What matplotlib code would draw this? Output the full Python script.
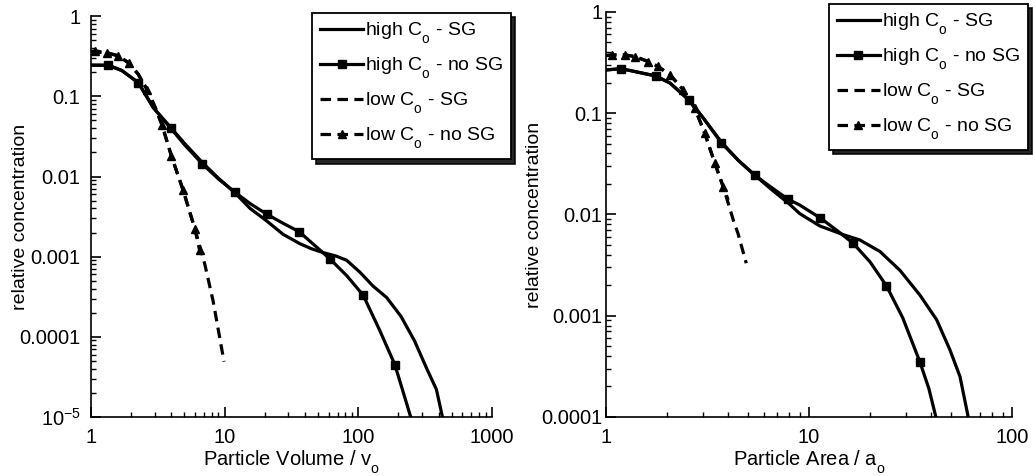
#!/usr/bin/env python3

import matplotlib
matplotlib.use('Agg')
import matplotlib.pyplot as plt
import matplotlib._mathtext as mt
from matplotlib.ticker import LogLocator, FixedLocator, FixedFormatter, NullFormatter

plt.rcParams['font.family'] = ['Liberation Sans', 'DejaVu Sans']
plt.rcParams['mathtext.fontset'] = 'custom'
plt.rcParams['mathtext.rm'] = 'Liberation Sans'
mt.FontConstantsBase.sub1 = 0.75  # subscripts sit low in the original

### left panel: particle volume
vol_hi_sg_x = [1, 1.35, 1.7, 2.26, 2.93, 3.95, 5.0, 6.8, 9.0, 11.9, 15.5, 20.6, 27.4, 36.6,
               45, 55, 68, 82, 103, 129, 163, 209, 264, 324, 385, 427]
vol_hi_sg_y = [0.245, 0.243, 0.21, 0.148, 0.072, 0.041, 0.026, 0.0150, 0.0095, 0.0063, 0.0040,
               0.0028, 0.0019, 0.00145, 0.00125, 0.00112, 0.00102, 0.00090, 0.00064, 0.00043,
               0.00031, 0.00018, 8.9e-5, 4.1e-5, 2.2e-5, 1e-5]

vol_hi_nosg_x = [1, 1.35, 1.7, 2.26, 2.93, 3.95, 5.0, 6.8, 9.0, 11.9, 15.5, 20.6, 27.5, 36.1,
                 48, 61.3, 82, 109, 145, 188, 220, 247]
vol_hi_nosg_y = [0.245, 0.245, 0.21, 0.148, 0.072, 0.040, 0.025, 0.0144, 0.0093, 0.0064, 0.0046,
                 0.0034, 0.0026, 0.00205, 0.00135, 0.00094, 0.00058, 0.00033, 0.00012, 4.5e-5,
                 1.9e-5, 1e-5]
vol_hi_nosg_marks = [1, 3, 5, 7, 9, 11, 13, 15, 17, 19]

vol_lo_sg_x = [1, 1.31, 1.6, 1.92, 2.25, 2.64, 3.0, 3.4, 4.0, 4.9, 6.0, 7.1, 8.2, 9.9]
vol_lo_sg_y = [0.36, 0.35, 0.32, 0.26, 0.19, 0.12, 0.075, 0.044, 0.018, 0.0067, 0.0022,
               0.00081, 0.00028, 4.9e-5]

vol_lo_nosg_x = [1, 1.07, 1.31, 1.6, 1.92, 2.25, 2.64, 3.0, 3.4, 4.0, 4.9, 6.0, 6.5]
vol_lo_nosg_y = [0.36, 0.37, 0.35, 0.32, 0.26, 0.19, 0.12, 0.075, 0.044, 0.018, 0.0067,
                 0.0022, 0.0012]
vol_lo_nosg_marks = [1, 2, 3, 4, 6, 8, 9, 10, 11, 12]

### right panel: particle area
area_hi_sg_x = [1, 1.19, 1.76, 2.07, 2.56, 3.01, 3.7, 4.5, 5.4, 6.5, 8.0, 9.0, 11.3, 14.8,
                17.8, 22.4, 28.1, 35.2, 42.6, 49.5, 55.5, 60.9]
area_hi_sg_y = [0.267, 0.275, 0.233, 0.198, 0.135, 0.090, 0.052, 0.034, 0.0245, 0.0178, 0.0127,
                0.0102, 0.0077, 0.0063, 0.0056, 0.0043, 0.0028, 0.0016, 0.00091, 0.00046,
                0.00025, 1e-4]

area_hi_nosg_x = [1, 1.19, 1.76, 2.07, 2.56, 3.01, 3.7, 4.5, 5.4, 6.5, 7.9, 9.0, 11.4, 13.8,
                  16.5, 20, 24.1, 29, 35.2, 39, 42.2]
area_hi_nosg_y = [0.267, 0.275, 0.233, 0.198, 0.135, 0.090, 0.051, 0.034, 0.0245, 0.0186,
                  0.0141, 0.0124, 0.0092, 0.0069, 0.0052, 0.0034, 0.00197, 0.00095, 0.00035,
                  0.00019, 1e-4]
area_hi_nosg_marks = [1, 2, 4, 6, 8, 10, 12, 14, 16, 18]

area_lo_sg_x = [1, 1.07, 1.24, 1.39, 1.62, 1.8, 2.07, 2.40, 2.74, 3.07, 3.44, 3.78, 4.24,
                4.47, 4.91]
area_lo_sg_y = [0.37, 0.376, 0.376, 0.362, 0.323, 0.29, 0.239, 0.17, 0.112, 0.063, 0.032,
                0.0188, 0.0088, 0.0065, 0.0033]

area_lo_nosg_x = [1, 1.07, 1.24, 1.39, 1.62, 1.8, 2.07, 2.40, 2.74, 3.07, 3.44, 3.78, 4.0]
area_lo_nosg_y = [0.37, 0.376, 0.376, 0.362, 0.323, 0.29, 0.239, 0.17, 0.112, 0.063, 0.032,
                  0.0188, 0.0139]
area_lo_nosg_marks = [1, 2, 3, 4, 5, 6, 7, 8, 9, 10, 11]

labels = ['high C$_\\mathregular{o}$ - SG', 'high C$_\\mathregular{o}$ - no SG',
          'low C$_\\mathregular{o}$ - SG', 'low C$_\\mathregular{o}$ - no SG']

vol_yticks = [1, 0.1, 0.01, 0.001, 0.0001, 1e-5]
vol_ylabels = ['1', '0.1', '0.01', '0.001', '0.0001', '10$^{\\mathregular{-5}}$']
area_yticks = [1, 0.1, 0.01, 0.001, 0.0001]
area_ylabels = ['1', '0.1', '0.01', '0.001', '0.0001']

LW = 2.3
DASH = (0, (3.3, 2.0))


def draw(ax, hs, hn, ls_, ln, xlabel, xlim, ylim, yticks, ylabels, xticks, xticklabels,
         legpos, ypad, ylabx):
    ax.plot(hs[0], hs[1], color='k', lw=LW, label=labels[0])
    ax.plot(hn[0], hn[1], color='k', lw=LW, marker='s', ms=6, markevery=hn[2], label=labels[1])
    ax.plot(ls_[0], ls_[1], color='k', lw=LW, linestyle=DASH, label=labels[2])
    ax.plot(ln[0], ln[1], color='k', lw=LW, linestyle=DASH, marker='^', ms=5.5,
            markevery=ln[2], label=labels[3])
    ax.set_xscale('log')
    ax.set_yscale('log')
    ax.set_xlim(*xlim)
    ax.set_ylim(*ylim)
    ax.spines['top'].set_visible(False)
    ax.spines['right'].set_visible(False)
    for s in ['left', 'bottom']:
        ax.spines[s].set_linewidth(1.2)
    ax.yaxis.set_major_locator(FixedLocator(yticks))
    ax.yaxis.set_major_formatter(FixedFormatter(ylabels))
    ax.yaxis.set_minor_locator(LogLocator(base=10, subs=range(2, 10)))
    ax.yaxis.set_minor_formatter(NullFormatter())
    ax.xaxis.set_major_locator(FixedLocator(xticks))
    ax.xaxis.set_major_formatter(FixedFormatter(xticklabels))
    ax.xaxis.set_minor_locator(LogLocator(base=10, subs=range(2, 10)))
    ax.xaxis.set_minor_formatter(NullFormatter())
    ax.tick_params(which='major', direction='in', length=7, width=1.2, labelsize=14.5)
    ax.tick_params(axis='x', which='major', pad=8)
    ax.tick_params(axis='y', which='major', pad=ypad)
    ax.tick_params(which='minor', direction='in', length=3.5, width=1.0)
    ax.set_xlabel(xlabel, fontsize=14.5, labelpad=1)
    ax.set_ylabel('relative concentration', fontsize=14)
    ax.yaxis.set_label_coords(ylabx, 0.5)
    leg = ax.legend(loc='upper right', bbox_to_anchor=legpos, bbox_transform=fig.transFigure,
                    fontsize=14, frameon=True, fancybox=False, numpoints=1,
                    handlelength=2.2, handletextpad=0.1, labelspacing=0.5, borderpad=0.42,
                    borderaxespad=0, shadow={'color': 'black', 'alpha': 0.85, 'ox': 3, 'oy': -3})
    leg.get_frame().set_edgecolor('black')
    leg.get_frame().set_linewidth(1.3)


fig = plt.figure(figsize=(10.33, 4.76), dpi=100)
ax1 = fig.add_axes([0.0881, 0.124, 0.388, 0.842])
ax2 = fig.add_axes([0.5866, 0.124, 0.393, 0.851])

draw(ax1, (vol_hi_sg_x, vol_hi_sg_y), (vol_hi_nosg_x, vol_hi_nosg_y, vol_hi_nosg_marks),
     (vol_lo_sg_x, vol_lo_sg_y), (vol_lo_nosg_x, vol_lo_nosg_y, vol_lo_nosg_marks),
     'Particle Volume / v$_\\mathregular{o}$', (1, 1000), (1e-5, 1), vol_yticks, vol_ylabels,
     [1, 10, 100, 1000], ['1', '10', '100', '1000'], (0.4947, 0.973), 7.5, -0.155)

draw(ax2, (area_hi_sg_x, area_hi_sg_y), (area_hi_nosg_x, area_hi_nosg_y, area_hi_nosg_marks),
     (area_lo_sg_x, area_lo_sg_y), (area_lo_nosg_x, area_lo_nosg_y, area_lo_nosg_marks),
     'Particle Area / a$_\\mathregular{o}$', (1, 100), (1e-4, 1), area_yticks, area_ylabels,
     [1, 10, 100], ['1', '10', '100'], (0.995, 0.992), 2.5, -0.155)

fig.savefig('out.png', dpi=100)
